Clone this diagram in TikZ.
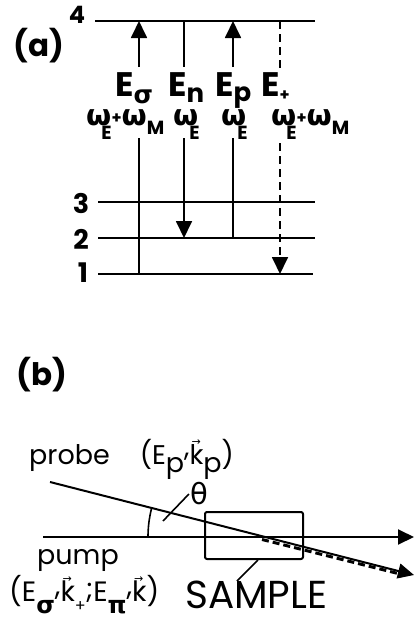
\documentclass[tikz,border=0pt]{standalone}
\usepackage{fontspec}
\setmainfont{Poppins}
\newfontfamily\gk{DejaVu Sans}
\usetikzlibrary{arrows.meta,calc}
\newcommand\fs[1]{\fontsize{#1}{#1}\selectfont}
\newcommand\om{{\gk\bfseries ω}}
\newcommand\vk{\makebox[0pt][l]{\hspace{2pt}\raisebox{19pt}{\gk\fs{11}→}}k}
\begin{document}
\begin{tikzpicture}[x=1pt,y=-1pt,line join=round,
  lvl/.style={line width=2.4pt},
  tr/.style={line width=1.8pt},
  dsh/.style={dash pattern=on 8pt off 5pt},
  tipA/.style={-{Triangle[width=16pt,length=17pt]}},
  tipB/.style={-{Triangle[width=15pt,length=16pt]}},
  beam/.style={line width=2pt},
  lbl/.style={inner sep=0pt,anchor=base west},
  big/.style={font=\fs{31}\bfseries,inner sep=0pt},
  dig/.style={font=\fs{27}\bfseries,inner sep=0pt},
  elab/.style={lbl,font=\fs{34}\bfseries},
  wlab/.style={lbl,font=\fs{29}\bfseries}]
\useasboundingbox (0,0) rectangle (414,622);
\fill[white] (0,0) rectangle (414,622);
% ---------- (a) levels
\coordinate (L4a) at (95,21);  \coordinate (L4b) at (315,21);
\coordinate (L3a) at (98,202); \coordinate (L3b) at (315,202);
\coordinate (L2a) at (98,238); \coordinate (L2b) at (315,238);
\coordinate (L1a) at (98,274); \coordinate (L1b) at (313,274);
\draw[lvl] (L4a) -- (L4b);
\draw[lvl] (L3a) -- (L3b);
\draw[lvl] (L2a) -- (L2b);
\draw[lvl] (L1a) -- (L1b);
\node[big] (la) at (39,46) {(a)};
\node[dig,font=\fs{24}\bfseries] (d4) at (77,15) {4};
\node[dig] (d3) at (81,203) {3};
\node[dig] (d2) at (81,239) {2};
\node[dig] (d1) at (83,273) {1};
% transitions
\coordinate (s4) at (139,21); \coordinate (s3) at (139,67);
\coordinate (s2) at (139,138); \coordinate (s1) at (139,274);
\draw[tr,tipA] (s3) -- (s4);
\draw[tr] (s2) -- (s1);
\coordinate (n4) at (184,21); \coordinate (n3) at (184,67);
\coordinate (n2) at (184,138); \coordinate (n1) at (184,238);
\draw[tr] (n4) -- (n3);
\draw[tr,tipA] (n2) -- (n1);
\coordinate (p4) at (233,21); \coordinate (p3) at (233,67);
\coordinate (p2) at (233,138); \coordinate (p1) at (233,238);
\draw[tr,tipA] (p3) -- (p4);
\draw[tr] (p2) -- (p1);
\coordinate (q4) at (280,21); \coordinate (q3) at (280,72);
\coordinate (q2) at (280,143); \coordinate (q1) at (280,274);
\draw[tr,dsh] (q4) -- (q3);
\draw[tr,dsh,tipA] (q2) -- (q1);
% labels
\node[elab] (eS) at (115,96) {E\raisebox{-7pt}{\gk\bfseries\fs{25}σ}};
\node[elab] (eN) at (168,96) {E\raisebox{-6pt}{\fs{26}n}};
\node[elab] (eP) at (215,96) {E\raisebox{-5pt}{\fs{26}p}};
\node[elab] (eQ) at (261,96) {E\raisebox{-4pt}{\fs{16}+}};
\node[wlab] (wS) at (86,125) {\om\hspace{-10pt}\raisebox{-14pt}{\fs{19}E}\raisebox{2pt}{\fs{16}+}\om\raisebox{-9pt}{\fs{19}M}};
\node[wlab] (wN) at (173,125) {\om\hspace{-9pt}\raisebox{-14pt}{\fs{19}E}};
\node[wlab] (wP) at (221,125) {\om\hspace{-9pt}\raisebox{-14pt}{\fs{19}E}};
\node[wlab] (wQ) at (271,125) {\om\hspace{-10pt}\raisebox{-14pt}{\fs{19}E}\raisebox{2pt}{\fs{16}+}\om\raisebox{-9pt}{\fs{19}M}};
% ---------- (b)
\node[big] (lb) at (42,375) {(b)};
\coordinate (pr0) at (50,482); \coordinate (pr1) at (414,575);
\coordinate (pu0) at (43,537); \coordinate (pu1) at (414,537);
\node[draw,line width=2pt,rounded corners=2pt,minimum width=98pt,minimum height=47pt,inner sep=0pt] (smp) at (254,535.5) {};
\draw[beam,tipB] (pu0) -- (pu1);
\draw[beam,tipB] (pr0) -- (pr1);
\coordinate (d0) at (262,539.5); \coordinate (d1) at (398,573.5);
\draw[line width=3pt,dash pattern=on 7pt off 4pt] (d0) -- (d1);
\draw[line width=1.6pt] (148,537) arc[start angle=180,end angle=194.3,radius=117];
\node[font=\gk\fs{29},inner sep=1pt] (th) at (199,494) {θ};
\coordinate (thp) at (163,521);
\draw[line width=1.6pt] (th.west) -- (thp);
\node[lbl,font=\fs{27}] (prl) at (29,464) {probe\hspace{30pt}(E\raisebox{-8pt}{p}\raisebox{8pt}{,}\vk\raisebox{-8pt}{p})};
\node[lbl,font=\fs{27}] (pul) at (37,564) {pump};
\node[lbl,font=\fs{28}] (pul2) at (9,601) {(E\raisebox{-12pt}{\gk\bfseries\fs{24}σ}\raisebox{6pt}{,}\vk\raisebox{-10pt}{\fs{16}+}\raisebox{3pt}{;}E\raisebox{-12pt}{\gk\bfseries\fs{24}π}\raisebox{6pt}{,}\vk)};
\node[lbl,font=\fs{39}] (sam) at (185,608) {SAMPLE};
\coordinate (sl0) at (237,581);
\draw[line width=1.6pt] (sl0) -- ($(smp.south)+(4,0)$);
\end{tikzpicture}
\end{document}
